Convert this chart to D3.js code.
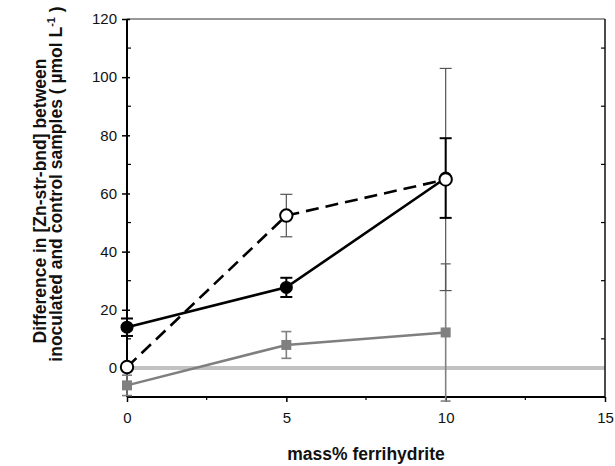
<!DOCTYPE html>
<html><head><meta charset="utf-8">
<script src="https://cdn.jsdelivr.net/npm/d3@7"></script>
<style>body{margin:0;background:#fff}svg{display:block}</style>
</head><body>
<svg id="c" width="615" height="466"></svg>
<script>
const xVals = [0, 5, 10];
const openMean = [0.3, 52.4, 64.8];
const openErr = [0, 7.3, 38.2];
const filledMean = [14, 27.7, 65.3];
const filledErr = [3, 3.3, 13.7];
const grayMean = [-6, 7.9, 12.2];
const grayErr = [3.5, 4.6, 23.6];
const yMajorTicks = [0, 20, 40, 60, 80, 100, 120];
const xMajorTicks = [0, 5, 10, 15];

const svg = d3.select("#c");
const font = "Liberation Sans, Arial, sans-serif";
const x = d3.scaleLinear().domain([0, 15]).range([127, 605]);
const y = d3.scaleLinear().domain([-10, 120]).range([397, 19]);

// zero reference line
svg.append("line").attr("x1", x(0)).attr("x2", x(15)).attr("y1", y(0)).attr("y2", y(0))
  .attr("stroke", "#c2c2c2").attr("stroke-width", 4);

// frame
svg.append("line").attr("x1", x(0)).attr("x2", x(15)).attr("y1", y(120)).attr("y2", y(120))
  .attr("stroke", "#333").attr("stroke-width", 1.2);
svg.append("line").attr("x1", x(15)).attr("x2", x(15)).attr("y1", y(120)).attr("y2", y(-10))
  .attr("stroke", "#111").attr("stroke-width", 1.5);

// left axis
const yAxis = d3.axisLeft(y).tickValues(yMajorTicks).tickSize(5).tickPadding(5);
const gy = svg.append("g").attr("transform", `translate(${x(0)},0)`).call(yAxis);
gy.select(".domain").remove();
gy.selectAll(".tick line").attr("stroke", "#000").attr("stroke-width", 1.5).attr("x2", -5).attr("x1", 3);
gy.selectAll(".tick text").attr("font-family", font).attr("font-size", 15).attr("fill", "#111");
svg.append("line").attr("x1", x(0)).attr("x2", x(0)).attr("y1", y(120)).attr("y2", y(-10))
  .attr("stroke", "#000").attr("stroke-width", 2);
// left minor ticks
const yMinor = d3.range(-10, 121, 20);
svg.selectAll(".ymin").data(yMinor).join("line")
  .attr("x1", x(0)).attr("x2", x(0) + 4).attr("y1", d => y(d)).attr("y2", d => y(d))
  .attr("stroke", "#000").attr("stroke-width", 1.2);
// right ticks
svg.selectAll(".yr").data(yMinor.filter(d => d > -10)).join("line")
  .attr("x1", x(15)).attr("x2", x(15) - 4).attr("y1", d => y(d)).attr("y2", d => y(d))
  .attr("stroke", "#000").attr("stroke-width", 1.2);

// bottom axis
const xAxis = d3.axisBottom(x).tickValues(xMajorTicks).tickSize(5).tickPadding(10);
const gx = svg.append("g").attr("transform", `translate(0,${y(-10)})`).call(xAxis);
gx.select(".domain").remove();
gx.selectAll(".tick line").attr("stroke", "#000").attr("stroke-width", 1.5);
gx.selectAll(".tick text").attr("font-family", font).attr("font-size", 15).attr("fill", "#111");
svg.append("line").attr("x1", x(0)).attr("x2", x(15)).attr("y1", y(-10)).attr("y2", y(-10))
  .attr("stroke", "#000").attr("stroke-width", 2);
svg.selectAll(".xmin").data([2.5, 7.5, 12.5]).join("line")
  .attr("x1", d => x(d)).attr("x2", d => x(d)).attr("y1", y(-10)).attr("y2", y(-10) + 3)
  .attr("stroke", "#000").attr("stroke-width", 1.2);

// axis titles
svg.append("text").attr("x", (x(0) + x(15)) / 2).attr("y", 460).attr("text-anchor", "middle")
  .attr("font-family", font).attr("font-weight", "bold").attr("font-size", 17.5).attr("fill", "#111")
  .text("mass% ferrihydrite");
const yt = svg.append("text").attr("transform", "rotate(-90)")
  .attr("font-family", font).attr("font-weight", "bold").attr("font-size", 17.5).attr("fill", "#111")
  .attr("text-anchor", "middle");
yt.append("tspan").attr("x", -201).attr("y", 46).text("Difference in [Zn-str-bnd] between");
const t2 = yt.append("tspan").attr("x", -184).attr("y", 62);
t2.append("tspan").text("inoculated and control samples ( µmol L");
t2.append("tspan").attr("font-size", 11).attr("dy", -7).text("-1");
t2.append("tspan").attr("dy", 7).text(" )");

function series(mean, err) { return xVals.map((v, i) => ({ x: v, m: mean[i], e: err[i] })); }
const gray = series(grayMean, grayErr);
const filled = series(filledMean, filledErr);
const open = series(openMean, openErr);

function errBars(data, color, w, cap) {
  const g = svg.append("g");
  data.filter(d => d.e > 0).forEach(d => {
    g.append("line").attr("x1", x(d.x)).attr("x2", x(d.x)).attr("y1", y(d.m - d.e)).attr("y2", y(d.m + d.e))
      .attr("stroke", color).attr("stroke-width", w);
    [d.m - d.e, d.m + d.e].forEach(v => {
      g.append("line").attr("x1", x(d.x) - cap).attr("x2", x(d.x) + cap).attr("y1", y(v)).attr("y2", y(v))
        .attr("stroke", color).attr("stroke-width", w);
    });
  });
}
const line = d3.line().x(d => x(d.x)).y(d => y(d.m));

// gray series
errBars(gray, "#808080", 1.6, 5);
svg.append("path").datum(gray).attr("d", line).attr("fill", "none").attr("stroke", "#7f7f7f").attr("stroke-width", 2.5);
svg.selectAll(".sq").data(gray).join("rect")
  .attr("x", d => x(d.x) - 5).attr("y", d => y(d.m) - 5).attr("width", 10).attr("height", 10)
  .attr("fill", "#808080");

// open series error bars (thin)
errBars(open, "#555", 1.2, 6);
// filled series
errBars(filled, "#000", 2, 6);
svg.append("path").datum(filled).attr("d", line).attr("fill", "none").attr("stroke", "#000").attr("stroke-width", 2.6);
svg.selectAll(".fc").data(filled).join("circle")
  .attr("cx", d => x(d.x)).attr("cy", d => y(d.m)).attr("r", 6.5).attr("fill", "#000");
// open series
svg.append("path").datum(open).attr("d", line).attr("fill", "none").attr("stroke", "#000")
  .attr("stroke-width", 2.6).attr("stroke-dasharray", "13,7");
svg.selectAll(".oc").data(open).join("circle")
  .attr("cx", d => x(d.x)).attr("cy", d => y(d.m)).attr("r", 6.2).attr("fill", "#fff")
  .attr("stroke", "#000").attr("stroke-width", 2);
</script>
</body></html>
